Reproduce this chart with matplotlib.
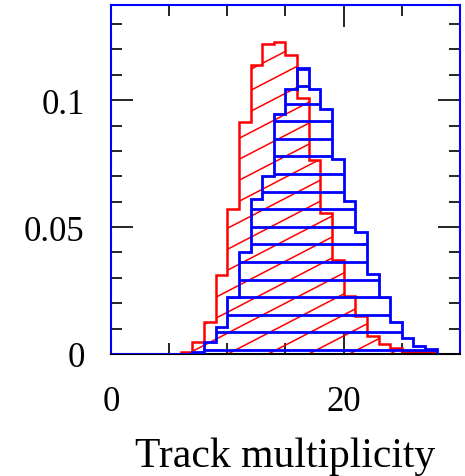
import numpy as np
import matplotlib
matplotlib.use("Agg")
import matplotlib.pyplot as plt
from matplotlib.ticker import MultipleLocator, FixedFormatter, FixedLocator

# Track multiplicity histograms (unit-width bins, normalised)
red_edges = np.arange(6, 29)
red_vals = [0.0007, 0.0046, 0.0125, 0.031, 0.057, 0.0915, 0.114, 0.122, 0.123,
            0.118, 0.101, 0.0765, 0.0555, 0.037, 0.023, 0.015, 0.0072, 0.0039,
            0.0022, 0.0007, 0.0006, 0.0006]

blue_edges = np.arange(0, 29)
blue_vals = [0, 0, 0, 0, 0, 0, 0,
             0.0007, 0.0046, 0.0108, 0.0226, 0.040, 0.061, 0.0702, 0.0945,
             0.1046, 0.1127, 0.1046, 0.0965, 0.0768, 0.0604, 0.0482, 0.0315,
             0.0223, 0.0125, 0.0062, 0.0033, 0.002]

x_labels = ["0", "20"]
y_labels = ["0", "0.05", "0.1"]

plt.rcParams["font.family"] = "Liberation Serif"

fig = plt.figure(figsize=(4.65, 4.77), dpi=100)
ax = fig.add_axes([0.2387, 0.2558, 0.7505, 0.7316])
ax.set_xlim(0, 30)
ax.set_ylim(0, 0.1375)

# red histogram with diagonal hatching
red = ax.stairs(red_vals, red_edges, fill=True, facecolor="none",
                edgecolor="red", linewidth=1.8, zorder=2)
slope = 0.52 * 11.6 / 2540
step = 21 / 2540
for c in np.arange(-0.09, 0.14, step):
    ln, = ax.plot([0, 30], [c, c + slope * 30], color="red", lw=1.1, zorder=2)
    ln.set_clip_path(red)

# blue histogram with horizontal hatching
blue = ax.stairs(blue_vals, blue_edges, fill=True, facecolor="none",
                 edgecolor="blue", linewidth=2.0, zorder=3)
hl = ax.hlines(np.arange(0.0016, 0.14, 17.6 / 2540), 0, 30, colors="blue",
               linewidth=2.0, zorder=3)
hl.set_clip_path(blue)

for side in ["left", "top", "right"]:
    ax.spines[side].set_color("blue")
    ax.spines[side].set_linewidth(1.5)
ax.spines["bottom"].set_color("black")
ax.spines["bottom"].set_linewidth(1.5)

ax.xaxis.set_major_locator(FixedLocator([0, 20]))
ax.xaxis.set_major_formatter(FixedFormatter(x_labels))
ax.xaxis.set_minor_locator(MultipleLocator(5))
ax.yaxis.set_major_locator(FixedLocator([0, 0.05, 0.1]))
ax.yaxis.set_major_formatter(FixedFormatter(y_labels))
ax.yaxis.set_minor_locator(MultipleLocator(0.01))

ax.tick_params(which="both", direction="in", top=True, right=True,
               color="black", width=1.2)
ax.tick_params(which="major", length=16, labelsize=25)
ax.tick_params(which="minor", length=8)
ax.tick_params(axis="y", which="major", pad=19)
ax.tick_params(axis="x", which="major", pad=22)

ax.set_xlabel("Track multiplicity", fontsize=30, labelpad=14)

fig.savefig("out.png", dpi=100)
